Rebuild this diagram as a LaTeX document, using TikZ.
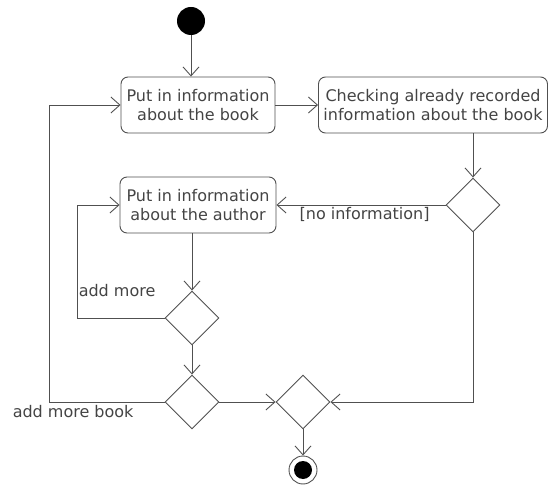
\documentclass[tikz,border=0pt]{standalone}
\usepackage{fontspec}
\setmainfont{DejaVu Sans}
\usetikzlibrary{arrows.meta,positioning,calc,shapes.geometric}
\definecolor{umlline}{HTML}{505050}
\definecolor{umltext}{HTML}{444444}
\tikzset{
  act/.style     = {draw=umlline,line width=0.9pt,rounded corners=7pt,
                     minimum height=56,align=center,inner sep=1pt,
                     text=umltext,font=\fontsize{16}{19}\selectfont},
  dec/.style     = {diamond,draw=umlline,line width=0.9pt,minimum width=54,
                     minimum height=54,inner sep=0pt},
  startnode/.style = {circle,fill=black,minimum size=28,inner sep=0pt},
  endnode/.style = {circle,draw=umlline,line width=0.9pt,minimum size=28,
                     inner sep=0pt,path picture={\fill[black]
                     (path picture bounding box.center) circle (9pt);}},
  flow/.style    = {-{Straight Barb[length=9pt,width=16pt]},draw=umlline,
                     line width=0.9pt},
  guard/.style   = {text=umltext,font=\fontsize{16}{19}\selectfont,inner sep=1pt},
}
\begin{document}
\begin{tikzpicture}[x=1pt,y=-1pt]
  \useasboundingbox (0,0) rectangle (549,489);
  % nodes
  \node[startnode] (start) at (191,21) {};
  \node[act,minimum width=154] (book) at (198,105)
    {Put in information\\about the book};
  \node[act,minimum width=229] (check) at (433,105)
    {Checking already recorded\\information about the book};
  \node[dec] (dec1) at (473,205) {};
  \node[act,minimum width=156] (author) at (198,205)
    {Put in information\\about the author};
  \node[dec] (dec2) at (192,318) {};
  \node[dec] (dec3) at (192,402) {};
  \node[dec] (merge) at (303,402) {};
  \node[endnode] (end) at (303,470) {};
  % flows
  \draw[flow] (start) -- (start |- book.north);
  \draw[flow] (book) -- (check);
  \draw[flow] (dec1 |- check.south) -- (dec1.north);
  \draw[flow] (dec1.west) -- (author.east);
  \node[guard,below right] at ($(author.east)+(22,1)$) {[no information]};
  \draw[flow] (author.south -| dec2) -- (dec2.north);
  \draw[flow] (dec2.west) -- ++(-87,0) coordinate (morecorner)
    |- (author.west);
  \node[guard,above right] at ($(morecorner)+(0,-20)$) {add more};
  \draw[flow] (dec2.south) -- (dec3.north);
  \draw[flow] (dec3.west) -- ++(-115,0) coordinate (bookcorner)
    |- (book.west);
  \node[guard,below right] at ($(bookcorner)+(-38,2)$) {add more book};
  \draw[flow] (dec3.east) -- (merge.west);
  \draw[flow] (dec1.south) |- (merge.east);
  \draw[flow] (merge.south) -- (end.north);
\end{tikzpicture}
\end{document}
